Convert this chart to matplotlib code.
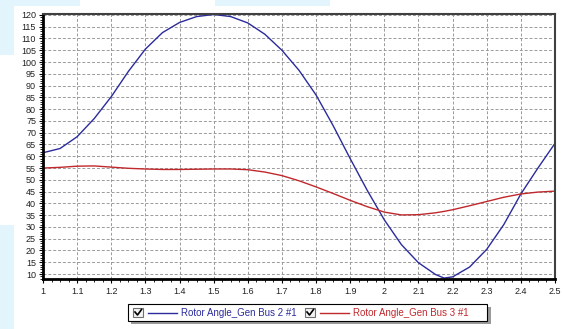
import matplotlib
matplotlib.use("Agg")
import matplotlib.pyplot as plt
from matplotlib.patches import Rectangle
from matplotlib.lines import Line2D
from matplotlib.ticker import MultipleLocator

plt.rcParams['font.family'] = ['Liberation Sans', 'DejaVu Sans']

# tempo (s)
tempo = [1.00, 1.05, 1.10, 1.15, 1.20, 1.25, 1.30, 1.35, 1.40, 1.45,
         1.50, 1.55, 1.60, 1.65, 1.70, 1.75, 1.80, 1.85, 1.90, 1.95,
         2.00, 2.05, 2.10, 2.15, 2.175, 2.20, 2.25, 2.30, 2.35, 2.40,
         2.45, 2.50]

# angulo do rotor - gerador barra 2
angulo_bus2 = [61.5, 63.3, 68.3, 76.0, 85.3, 96.0, 105.5, 112.5, 116.8, 119.3,
               120.2, 119.3, 116.6, 111.8, 105.0, 96.5, 86.0, 73.0, 59.0, 45.5,
               33.0, 22.5, 14.8, 9.8, 8.3, 8.8, 13.0, 20.5, 31.0, 44.0,
               55.0, 65.5]

# angulo do rotor - gerador barra 3
angulo_bus3 = [55.0, 55.3, 55.8, 55.9, 55.4, 54.9, 54.6, 54.4, 54.4, 54.5,
               54.6, 54.6, 54.3, 53.3, 51.8, 49.6, 47.0, 44.2, 41.3, 38.6,
               36.3, 35.1, 35.2, 36.0, 36.6, 37.3, 39.0, 40.8, 42.6, 44.0,
               44.8, 45.2]

rotulos = ["Rotor Angle_Gen Bus 2 #1", "Rotor Angle_Gen Bus 3 #1"]
cores = ["#2b2b9c", "#c0282c"]

W, H = 563, 329
fig = plt.figure(figsize=(W / 100, H / 100), dpi=100)

# manchas azuladas do fundo (captura de tela)
for (x0, y0, w, h) in [(0, 0, 80, 6), (215, 0, 115, 6), (0, 0, 14, 55), (0, 225, 14, 104)]:
    fig.patches.append(Rectangle((x0 / W, 1 - (y0 + h) / H), w / W, h / H,
                                 transform=fig.transFigure, color="#e2f5fc", lw=0, zorder=0))

ax = fig.add_axes([43 / W, 1 - 279 / H, (555 - 43) / W, (279 - 14) / H])
ax.plot(tempo, angulo_bus2, color=cores[0], lw=1.0)
ax.plot(tempo, angulo_bus3, color=cores[1], lw=1.0)

ax.set_xlim(1, 2.5)
ax.set_ylim(7.9, 120.4)
ax.xaxis.set_major_locator(MultipleLocator(0.1))
ax.xaxis.set_minor_locator(MultipleLocator(0.025))
ax.yaxis.set_major_locator(MultipleLocator(5))
ax.yaxis.set_minor_locator(MultipleLocator(1))
ax.set_yticks(range(10, 121, 5))
ax.set_xticklabels(["{:g}".format(round(v, 1)) for v in ax.get_xticks()])
ax.tick_params(labelsize=6.5, length=3, width=0.8, direction='out', pad=3,
               labelcolor="#222222")
ax.tick_params(axis='y', pad=2)
ax.tick_params(which='minor', length=2, width=0.6)
ax.grid(True, which='major', linestyle=(0, (3, 2)), color="#9a9a9a", lw=0.7)

for lado in ['left', 'bottom']:
    ax.spines[lado].set_linewidth(2)
    ax.spines[lado].set_color("black")
for lado in ['top', 'right']:
    ax.spines[lado].set_linewidth(1.5)
    ax.spines[lado].set_color("#404040")

# legenda desenhada na figura
def px(x, y):
    return x / W, 1 - y / H

sx, sy = px(131, 324)
fig.patches.append(Rectangle((sx, sy), (489 - 129) / W, 17 / H, transform=fig.transFigure,
                             color="#9a9a9a", lw=0, zorder=1))
bx, by = px(128, 321)
fig.patches.append(Rectangle((bx, by), (487 - 128) / W, 17 / H, transform=fig.transFigure,
                             facecolor="white", edgecolor="black", lw=0.8, zorder=2))

posicoes = [133, 305]
for i in range(2):
    x0 = posicoes[i]
    cx, cy = px(x0, 317)
    fig.patches.append(Rectangle((cx, cy), 10 / W, 9 / H, transform=fig.transFigure,
                                 facecolor="#f4f4f4", edgecolor="#707070", lw=0.8, zorder=3))
    fig.lines.append(Line2D([(x0 + 2) / W, (x0 + 4.5) / W, (x0 + 8.5) / W],
                            [1 - 312 / H, 1 - 315 / H, 1 - 309.5 / H],
                            transform=fig.transFigure, color="black", lw=1.2, zorder=4))
    fig.lines.append(Line2D([(x0 + 15) / W, (x0 + 44) / W], [1 - 312.5 / H, 1 - 312.5 / H],
                            transform=fig.transFigure, color=cores[i], lw=1.0, zorder=4))
    fig.text((x0 + 48) / W, 1 - 312.5 / H, rotulos[i], color=cores[i], fontsize=7,
             va='center', ha='left', zorder=4)

fig.savefig("out.png", dpi=100)
